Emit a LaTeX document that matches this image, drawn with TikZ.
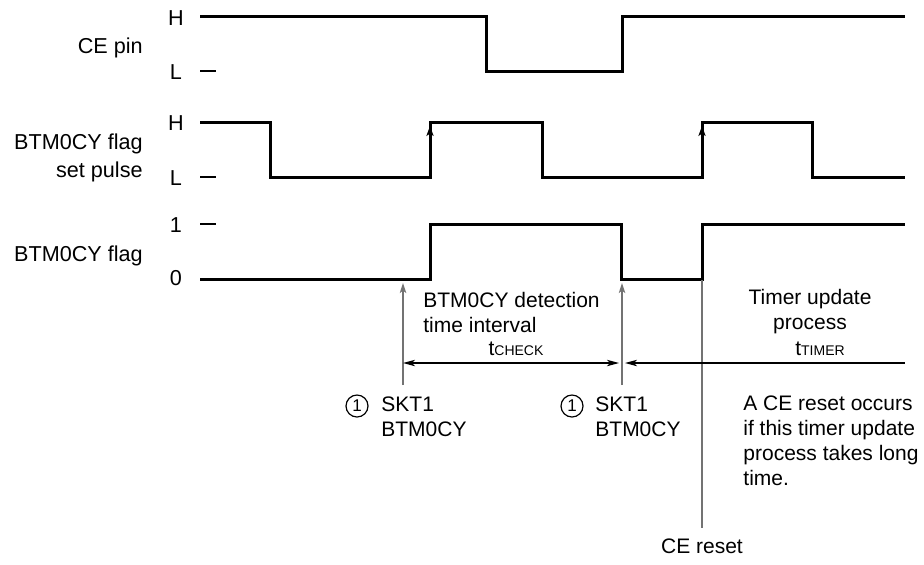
\documentclass[tikz,border=0pt]{standalone}
\usepackage{fontspec}
\setmainfont{Liberation Sans}
\usetikzlibrary{arrows.meta}
\begin{document}
\begin{tikzpicture}[x=0.5pt,y=-0.5pt,
  sig/.style={line width=1.5pt, line join=miter, line cap=butt},
  tickline/.style={line width=0.6pt},
  guide/.style={line width=0.7pt, draw=black!55},
  dim/.style={line width=0.6pt},
  lbl/.style={font=\fontsize{10.5}{12.5}\selectfont, inner sep=0pt},
  lblL/.style={font=\fontsize{10.8}{14}\selectfont, inner sep=0pt},
  num/.style={circle, draw, line width=0.6pt, minimum size=11pt, inner sep=0pt, font=\fontsize{8.5}{9}\selectfont},
  hd/.style={-{Stealth[length=5pt,width=3.2pt,inset=1.2pt]}},
  hdp/.style={-{Stealth[length=5pt,width=3.6pt,inset=1.2pt]}},
  hdd/.style={{Stealth[length=6pt,width=3.2pt,inset=1.5pt]}-{Stealth[length=6pt,width=3.2pt,inset=1.5pt]}},
  hdl/.style={{Stealth[length=6pt,width=3.2pt,inset=1.5pt]}-}]
\useasboundingbox (0,0) rectangle (924,564);

% left labels
\node[lblL, anchor=east] (cepin) at (143,48) {CE pin};
\node[lblL, anchor=east, align=right] (pulse) at (143,158) {BTM0CY flag\\set pulse};
\node[lblL, anchor=east] (flag) at (143,256) {BTM0CY flag};

% level labels
\node[lblL] (ceH) at (176,18) {H};
\node[lblL] (ceL) at (176,72) {L};
\node[lblL] (pH) at (176,123) {H};
\node[lblL] (pL) at (176,178) {L};
\node[lblL] (f1) at (176,225) {1};
\node[lblL] (f0) at (176,278) {0};

% ticks
\draw[tickline] (200,71) -- (216,71);
\draw[tickline] (200,177) -- (216,177);
\draw[tickline] (200,224) -- (216,224);

% CE pin waveform
\draw[sig] (200,16) -- (486,16) -- (486,71) -- (622,71) -- (622,16) -- (905,16);
% set pulse waveform
\draw[sig] (200,122) -- (270,122) -- (270,177) -- (430,177) -- (430,122) -- (542,122) -- (542,177)
  -- (702,177) -- (702,122) -- (812,122) -- (812,177) -- (905,177);
\coordinate (r1b) at (430,165); \coordinate (r1t) at (430,126);
\coordinate (r2b) at (702,165); \coordinate (r2t) at (702,126);
\draw[line width=0.6pt, hdp] (r1b) -- (r1t);
\draw[line width=0.6pt, hdp] (r2b) -- (r2t);
% flag waveform
\draw[sig] (200,279) -- (430,279) -- (430,224) -- (621,224) -- (621,279) -- (702,279) -- (702,224) -- (905,224);

% guide arrows
\coordinate (g1b) at (403,385); \coordinate (g1t) at (403,283);
\coordinate (g2b) at (622,385); \coordinate (g2t) at (622,283);
\coordinate (crt) at (702,280); \coordinate (crb) at (702,528);
\draw[guide, hd] (g1b) -- (g1t);
\draw[guide, hd] (g2b) -- (g2t);
\draw[guide] (crt) -- (crb);

% dimension lines
\coordinate (d1) at (403,363); \coordinate (d2) at (619,363);
\coordinate (d3) at (625,363); \coordinate (d4) at (905,363);
\draw[dim, hdd] (d1) -- (d2);
\draw[dim, hdl] (d3) -- (d4);

% interval labels
\node[lbl, anchor=west, align=left] (det) at (423,312) {BTM0CY detection\\time interval};
\node[lbl] (tcheck) at (516,349) {t{\fontsize{7}{8}\selectfont CHECK}};
\node[lbl, align=center] (tup) at (810,312) {Timer update\\process};
\node[lbl] (ttimer) at (820,349) {t{\fontsize{7}{8}\selectfont TIMER}};

% SKT1 labels
\node[num] (c1) at (357,406) {1};
\node[lbl, anchor=west, align=left] (s1) at (381,417) {SKT1\\BTM0CY};
\node[num] (c2) at (572,406) {1};
\node[lbl, anchor=west, align=left] (s2) at (595,417) {SKT1\\BTM0CY};

% note
\node[lbl, anchor=west, align=left] (note) at (743,441)
  {A CE reset occurs\\if this timer update\\process takes long\\time.};

% CE reset
\node[lbl] (cereset) at (702,546) {CE reset};
\end{tikzpicture}
\end{document}
